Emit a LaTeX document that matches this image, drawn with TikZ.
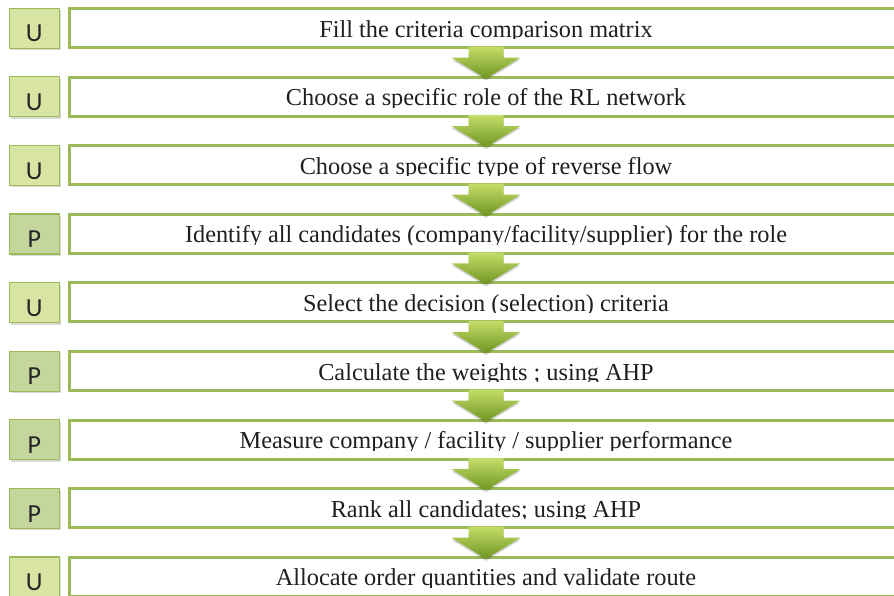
\documentclass[tikz,border=0pt]{standalone}
\usepackage{fontspec}
\setmainfont{Liberation Serif}
\newfontfamily\lettfont{Carlito}
\usetikzlibrary{calc,shadows}
\definecolor{ogreen}{RGB}{155,187,89}
\definecolor{ufill}{RGB}{216,228,162}
\definecolor{pfill}{RGB}{196,214,155}
\definecolor{arrtop}{RGB}{196,221,104}
\definecolor{arrbot}{RGB}{110,150,32}
\begin{document}
\begin{tikzpicture}[x=1pt,y=-1pt,
  mainbox/.style={draw=ogreen,line width=3pt,minimum width=833pt,minimum height=39pt,inner sep=0pt,outer sep=0pt,fill=white},
  tagbox/.style={draw=ogreen,line width=1.2pt,minimum width=50pt,minimum height=40pt,inner sep=0pt,outer sep=0pt,
    drop shadow={shadow xshift=1.5pt,shadow yshift=-2pt,opacity=.3}},
  tagU/.style={fill=ufill},
  tagP/.style={fill=pfill},
  tagtext/.style={font=\lettfont\fontsize{26}{30}\selectfont,text=black!85,inner sep=0pt,anchor=base},
  steptext/.style={font=\fontsize{24.3}{28}\selectfont,text=black!88,inner sep=0pt,anchor=base},
  flowarrow/.style={top color=arrtop,bottom color=arrbot},
  arrowshadow/.style={fill=black,opacity=.18}]
\useasboundingbox (0,0) rectangle (894,595);
\clip (0,0) rectangle (894,595);
\foreach \lab/\txt [count=\i from 0] in {
  U/{Fill the criteria comparison matrix},
  U/{Choose a specific role of the RL network},
  U/{Choose a specific type of reverse flow},
  P/{Identify all candidates (company/facility/supplier) for the role},
  U/{Select the decision (selection) criteria},
  P/{Calculate the weights ; using AHP},
  P/{Measure company / facility / supplier performance},
  P/{Rank all candidates; using AHP},
  U/{Allocate order quantities and validate route}}{
  \pgfmathsetmacro\yy{68.6*\i}
  \node[mainbox] (m\i) at (486,28+\yy) {};
  \begin{scope}
    \clip (72,10+\yy) rectangle (899,38.5+\yy);
    \node[steptext] (t\i) at (486,37+\yy) {\txt};
  \end{scope}
  \node[tagbox,tag\lab] (g\i) at (34.25,28.25+\yy) {};
  \node[tagtext] (l\i) at (34.25,41.8+\yy) {\lab};
}
\foreach \i [evaluate=\i as \j using int(\i+1)] in {0,...,7}{
  \fill[arrowshadow] ($(m\i.south)+(-17.5,1)$) -- ($(m\i.south)+(17.5,1)$) -- ($(m\i.south)+(17.5,12)$) -- ($(m\i.south)+(34.5,12)$) -- ($(m\j.north)+(0,3.5)$) -- ($(m\i.south)+(-34.5,12)$) -- ($(m\i.south)+(-17.5,12)$) -- cycle;
  \shade[flowarrow] ($(m\i.south)+(-17.5,-1)$) -- ($(m\i.south)+(17.5,-1)$) -- ($(m\i.south)+(17.5,10)$) -- ($(m\i.south)+(34.5,10)$) -- ($(m\j.north)+(0,1.5)$) -- ($(m\i.south)+(-34.5,10)$) -- ($(m\i.south)+(-17.5,10)$) -- cycle;
}
\end{tikzpicture}
\end{document}
